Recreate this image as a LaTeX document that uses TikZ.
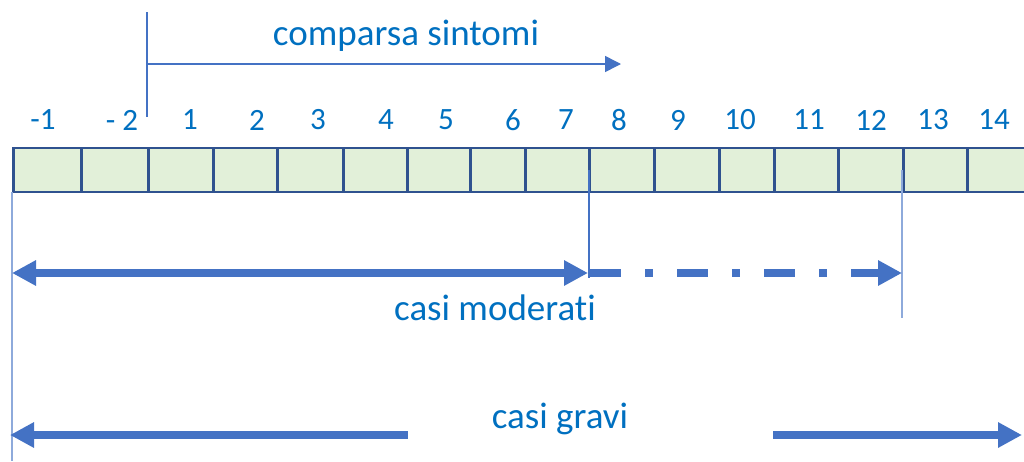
\documentclass[tikz,border=0pt]{standalone}
\usepackage{fontspec}
\setmainfont[Ligatures=NoCommon]{Carlito}
\usetikzlibrary{arrows.meta}
\definecolor{txtblue}{HTML}{0070C0}
\definecolor{arrblue}{HTML}{4472C4}
\definecolor{lightline}{HTML}{8EAADB}
\definecolor{cellfill}{HTML}{E2F0D9}
\definecolor{cellborder}{HTML}{2F528F}
\tikzset{
  cell/.style={draw=cellborder, fill=cellfill, line width=2.6pt, inner sep=0pt, minimum height=44pt, anchor=west},
  num/.style={text=txtblue, font=\fontsize{31}{31}\selectfont, inner sep=0pt},
  lbl/.style={text=txtblue, font=\fontsize{37}{37}\selectfont, inner sep=0pt},
  thinline/.style={draw=arrblue, line width=1.3pt},
  paleline/.style={draw=lightline, line width=1.5pt},
  thinarrow/.style={draw=arrblue, line width=1.5pt, -{Triangle[length=16pt,width=16pt]}},
  thickarrow/.style={draw=arrblue, line width=8pt, {Triangle[length=24pt,width=24pt]}-{Triangle[length=24pt,width=24pt]}},
  rtarrow/.style={draw=arrblue, line width=8pt, -{Triangle[length=24pt,width=24pt]}},
  ltarrow/.style={draw=arrblue, line width=8pt, {Triangle[length=24pt,width=24pt]}-},
  dasharrow/.style={draw=arrblue, line width=8pt, dash pattern=on 31pt off 24pt on 8pt off 24pt, -{Triangle[length=24pt,width=24pt]}}
}
\begin{document}
\begin{tikzpicture}[x=1pt,y=-1pt]
\clip (0,0) rectangle (1024,461);
\fill[white] (0,0) rectangle (1024,461);
% cells
\foreach \a/\b [count=\i] in {12/80,80/147,147/212,212/276,276/342,342/406,406/469,469/524,524/588,588/653,653/718,718/773,773/837,837/902,902/966,966/1040}{
  \pgfmathsetmacro\w{\b-\a}
  \node[cell, minimum width=\w pt] (c\i) at (\a,170) {};
}
% numbers
\foreach \x/\t [count=\i] in {43/-1,122/- 2,190/1,257/2,318/3,386/4,446/5,513/6,566/7,619/8,678/9,740/10,809/11,871/12,933/13,994/14}{
  \node[num] (n\i) at (\x,120) {\t};
}
% comparsa sintomi
\coordinate (vt) at (147,12);
\coordinate (vb) at (147,117);
\coordinate (as) at (147,64);
\coordinate (ae) at (621,64);
\draw[thinline] (vt) -- (vb);
\draw[thinarrow] (as) -- (ae);
\node[lbl] (cs) at (406,36) {comparsa sintomi};
% vertical guide lines
\coordinate (g1t) at (12,192);
\coordinate (g1b) at (12,461);
\draw[paleline] (g1t) -- (g1b);
\coordinate (g2t) at (589,170);
\coordinate (g2b) at (589,278);
\draw[thinline, line width=1.1pt] (g2t) -- (g2b);
\coordinate (g3t) at (902,170);
\coordinate (g3b) at (902,318);
\draw[paleline] (g3t) -- (g3b);
% casi moderati
\coordinate (m1) at (12,273);
\coordinate (m2) at (588,273);
\coordinate (m3) at (590,273);
\coordinate (m4) at (902,273);
\draw[thickarrow] (m1) -- (m2);
\draw[dasharrow] (m3) -- (m4);
\node[lbl] (cm) at (495,308) {casi moderati};
% casi gravi
\coordinate (gL) at (10,435);
\coordinate (gLs) at (408,435);
\coordinate (gRs) at (773,435);
\coordinate (gR) at (1022,435);
\draw[ltarrow] (gL) -- (gLs);
\draw[rtarrow] (gRs) -- (gR);
\node[lbl] (cg) at (560,419) {casi gravi};
\end{tikzpicture}
\end{document}
